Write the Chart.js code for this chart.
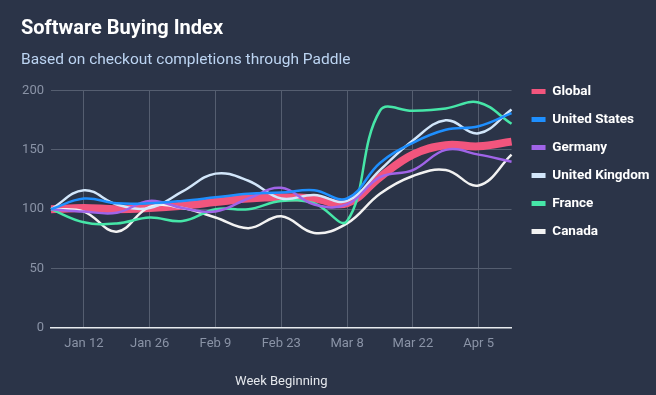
<!DOCTYPE html>
<html>
<head>
<meta charset="utf-8">
<script src="https://cdn.jsdelivr.net/npm/chart.js@4.4.1/dist/chart.umd.min.js"></script>
<style>
  html, body { margin: 0; padding: 0; background: #2b3448; }
  #wrap { position: relative; width: 656px; height: 395px; }
</style>
</head>
<body>
<div id="wrap"><canvas id="c"></canvas></div>
<script>
const weeks = ['Jan 5','Jan 12','Jan 19','Jan 26','Feb 2','Feb 9','Feb 16','Feb 23','Mar 1','Mar 8','Mar 15','Mar 22','Mar 29','Apr 5','Apr 12'];
const globalIdx  = [100,101,100,101,103,106,109,110,109,105,127,146,154,153,157];
const unitedStates = [100,109,105,105,107,110,113,114,116,109,139,156,167,170,181];
const germany    = [100,98,97,107,101,98,109,118,104,104,127,133,150,146,140];
const unitedKingdom = [100,116,104,101,115,130,124,109,112,107,133,158,175,164,184];
const france     = [100,89,88,93,90,100,100,107,105,90,183,183,185,190,172];
const canada     = [100,98,81,102,101,93,84,94,80,88,113,128,133,120,146];
const yTicks = [0, 50, 100, 150, 200];

const FONT = 'Roboto, "Noto Sans", sans-serif';

function ds(label, data, color, width, order) {
  return { label, data, borderColor: color, backgroundColor: color, borderWidth: width,
           pointRadius: 0, pointHoverRadius: 0, fill: false, tension: 0.4, order };
}

const legendShift = {
  id: 'legendShift',
  afterLayout(chart) {
    const l = chart.legend;
    const lab = l.options.labels;
    const dy = chart.chartArea.top + 1 - (l.top + lab.padding + lab.font.size / 2);
    const dx = (chart.chartArea.right + 20) - (l.left + lab.padding);
    l.top += dy; l.bottom += dy;
    l.left += dx; l.right += dx;
  }
};

new Chart(document.getElementById('c'), {
  type: 'line',
  data: {
    labels: weeks,
    datasets: [
      ds('Global', globalIdx, '#f2557d', 8, 1),
      ds('United States', unitedStates, '#1e8fff', 2.5, 0),
      ds('Germany', germany, '#a064e8', 2.5, 0),
      ds('United Kingdom', unitedKingdom, '#d2e6fa', 2.5, 0),
      ds('France', france, '#46e6a8', 2.5, 0),
      ds('Canada', canada, '#f2f2f2', 2.5, 0)
    ]
  },
  options: {
    responsive: true,
    maintainAspectRatio: false,
    animation: false,
    layout: { padding: { left: 21, right: 2, top: 0, bottom: 5 } },
    plugins: {
      title: {
        display: true, text: 'Software Buying Index', align: 'start', color: '#ffffff',
        font: { family: FONT, size: 20, weight: 'bold', lineHeight: 1.2 },
        padding: { top: 17, bottom: 10 }
      },
      subtitle: {
        display: true, text: 'Based on checkout completions through Paddle', align: 'start', color: '#bcd4f2',
        font: { family: FONT, size: 15.5, lineHeight: 1.2 },
        padding: { top: 0, bottom: 21 }
      },
      legend: {
        position: 'right', align: 'start',
        labels: {
          boxWidth: 14, boxHeight: 5, padding: 14.5, color: '#ffffff',
          font: { family: FONT, size: 13.5, weight: 'bold' },
          sort: (a, b) => a.datasetIndex - b.datasetIndex,
          generateLabels(chart) {
            const items = Chart.defaults.plugins.legend.labels.generateLabels(chart);
            items.forEach(i => { i.lineWidth = 0; i.fillStyle = i.strokeStyle; });
            return items;
          }
        }
      },
      tooltip: { enabled: false }
    },
    scales: {
      x: {
        offset: false,
        grid: {
          drawTicks: false,
          color: (ctx) => (ctx.index % 2 === 1 ? '#555e70' : 'rgba(0,0,0,0)'),
          lineWidth: 1
        },
        border: { display: true, color: '#e8ebef', width: 1.5 },
        ticks: {
          autoSkip: false, maxRotation: 0, padding: 8, color: '#8a93a6',
          font: { family: FONT, size: 13 },
          callback: (v, i) => (i % 2 === 1 ? weeks[i] : '')
        },
        title: {
          display: true, text: 'Week Beginning', color: '#e4e7ec',
          font: { family: FONT, size: 13 }, padding: { top: 15, bottom: 0 }
        }
      },
      y: {
        min: 0, max: 200,
        grid: { drawTicks: false, color: '#555e70', lineWidth: 1 },
        border: { display: false },
        afterBuildTicks: (axis) => { axis.ticks = yTicks.map(v => ({ value: v })); },
        afterFit: (axis) => { axis.width = 30; },
        ticks: { padding: 7, color: '#8a93a6', font: { family: FONT, size: 13 } }
      }
    }
  },
  plugins: [legendShift]
});
</script>
</body>
</html>
